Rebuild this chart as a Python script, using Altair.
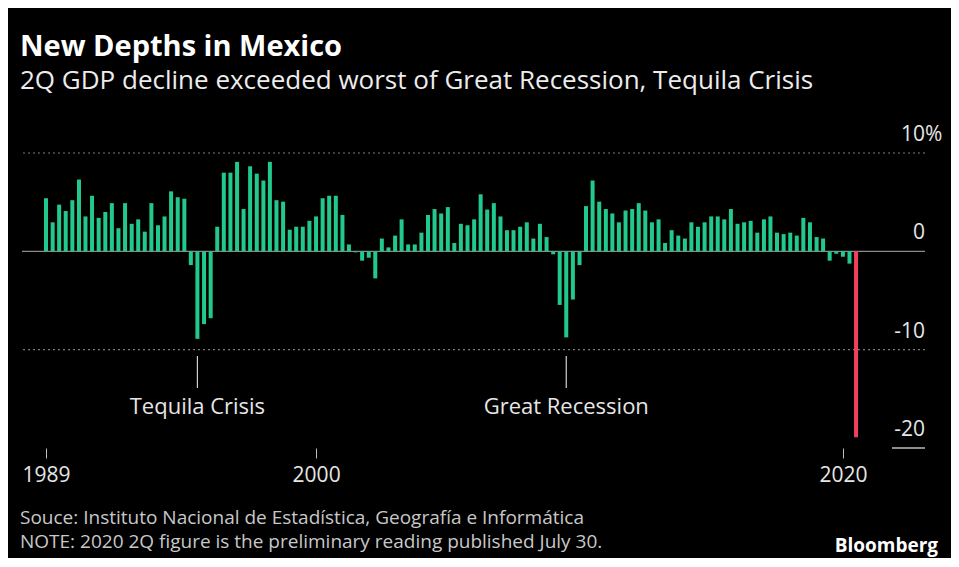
import altair as alt
import pandas as pd

# ---------------- data ----------------
quarters = [str(p) for p in pd.period_range("1989Q3", "2020Q2", freq="Q")]
growth = [
    5.4, 2.95, 4.75, 4.1, 5.2, 7.3, 3.55, 5.65, 3.4, 4.0, 4.9, 2.35, 4.9, 2.8, 3.25, 2.0,
    4.9, 2.65, 3.55, 6.1, 5.5, 5.35, -1.4, -8.9, -7.4, -6.8, 2.5, 8.0, 8.0, 9.1, 4.3,
    8.65, 7.9, 7.2, 9.1, 5.2, 5.05, 2.2, 2.5, 2.5, 3.1, 3.55, 5.4, 5.65, 5.65, 3.7, 0.7,
    -0.1, -0.95, -0.65, -2.75, 1.3, 0.4, 1.6, 3.25, 0.7, 0.7, 1.9, 3.7, 4.3, 3.85, 4.5, 0.85,
    2.8, 2.65, 3.25, 5.8, 4.25, 4.9, 3.55, 2.15, 2.15, 2.5, 2.95, 1.3, 2.8, 1.45, -0.3,
    -5.45, -8.75, -4.9, -1.4, 4.6, 7.2, 5.05, 4.3, 3.85, 2.95, 4.15, 4.3, 4.9, 4.15, 2.95, 3.25,
    0.85, 2.15, 1.6, 1.3, 2.95, 2.5, 2.95, 3.55, 3.55, 3.25, 4.3, 2.8, 2.95, 3.1, 1.9, 3.25,
    3.55, 1.9, 1.75, 1.9, 1.6, 3.4, 2.95, 1.45, 1.3, -0.95, -0.25, -0.55, -1.25, -18.9,
]
status = ["final"] * (len(quarters) - 1) + ["preliminary"]

tick_dates = ["1989-09-30", "2000-01-01", "2020-01-01"]
x_domain = ["1988-11-01", "2023-02-11"]
grid_dotted = [10, -10]
grid_solid = [0]
grid_short = [-20]
y_label_values = [10, 0, -10, -20]
y_label_texts = ["10", "0", "-10", "-20"]
ann_quarters = ["1995Q2", "2009Q2"]
ann_texts = ["Tequila Crisis", "Great Recession"]

title = "New Depths in Mexico"
subtitle = "2Q GDP decline exceeded worst of Great Recession, Tequila Crisis"
source = "Souce: Instituto Nacional de Estadística, Geografía e Informática"
note = "NOTE: 2020 2Q figure is the preliminary reading published July 30."
brand = "Bloomberg"

# ---------------- helpers ----------------
def q_end(q):
    return pd.Period(q, freq="Q").end_time.normalize().strftime("%Y-%m-%d")

def ms(d):
    return int(pd.Timestamp(d).value // 10**6)

FONT = "Open Sans"
GREEN = "#22c98c"
RED = "#f0405c"
GRID = "#7a7a7a"
TXT = "#e6e6e6"

df = pd.DataFrame({"date": [q_end(q) for q in quarters], "growth": growth, "status": status})

x_scale = alt.Scale(domain=[ms(d) for d in x_domain], nice=False, padding=0)
y_scale = alt.Scale(domain=[-20, 10], nice=False, zero=False, padding=0)

x_axis = alt.Axis(
    values=[ms(d) for d in tick_dates],
    labelExpr="utcFormat(datum.value, '%Y')",
    domain=False, grid=False, tickSize=10, tickColor="#bdbdbd",
    labelColor=TXT, labelFontSize=21, labelFont=FONT, labelPadding=6,
    labelFlush=False, labelOverlap=False, title=None,
)

grid1 = alt.Chart(pd.DataFrame({"v": grid_dotted})).mark_rule(
    color=GRID, strokeDash=[2, 3], strokeWidth=1.2
).encode(y=alt.Y("v:Q", scale=y_scale, axis=None))

grid0 = alt.Chart(pd.DataFrame({"v": grid_solid})).mark_rule(
    color="#8a8a8a", strokeWidth=1.2
).encode(y=alt.Y("v:Q", scale=y_scale, axis=None))

grid20 = alt.Chart(pd.DataFrame({"v": grid_short})).mark_rule(
    color="#bdbdbd", strokeWidth=1.5
).encode(y=alt.Y("v:Q", scale=y_scale, axis=None), x=alt.value(870), x2=alt.value(903))

bars = alt.Chart(df).mark_bar(size=4).encode(
    x=alt.X("date:T", scale=x_scale, axis=x_axis),
    y=alt.Y("growth:Q", scale=y_scale, axis=None),
    y2=alt.datum(0),
    color=alt.Color("status:N", scale=alt.Scale(domain=["final", "preliminary"], range=[GREEN, RED]), legend=None),
)

ylab = alt.Chart(pd.DataFrame({"v": y_label_values, "t": y_label_texts})).mark_text(
    align="right", baseline="alphabetic", dy=-12, font=FONT, fontSize=21, color=TXT
).encode(y=alt.Y("v:Q", scale=y_scale, axis=None), x=alt.value(903), text="t:N")

pct = alt.Chart(pd.DataFrame({"v": [10], "t": ["%"]})).mark_text(
    align="left", baseline="alphabetic", dy=-12, font=FONT, fontSize=21, color=TXT
).encode(y=alt.Y("v:Q", scale=y_scale, axis=None), x=alt.value(903), text="t:N")

ann_df = pd.DataFrame({"date": [q_end(q) for q in ann_quarters], "t": ann_texts})
ann_rule = alt.Chart(ann_df).mark_rule(color="#d0d0d0", strokeWidth=1.2).encode(
    x=alt.X("date:T", scale=x_scale), y=alt.value(203), y2=alt.value(235)
)
ann_text = alt.Chart(ann_df).mark_text(
    align="center", baseline="middle", font=FONT, fontSize=22, color=TXT
).encode(x=alt.X("date:T", scale=x_scale), y=alt.value(254), text="t:N")

def label(txt, x, y, size, weight="normal", color=TXT, align="left"):
    return alt.Chart(pd.DataFrame({"t": [txt]})).mark_text(
        align=align, baseline="alphabetic", font=FONT, fontSize=size, fontWeight=weight, color=color
    ).encode(x=alt.value(x), y=alt.value(y), text="t:N")

t1 = label(title, -2, -97, 29, "bold", "#ffffff")
t2 = label(subtitle, -2, -64, 26, "normal", "#ececec")
f1 = label(source, -2, 371, 19, "normal", "#c8c8c8")
f2 = label(note, -2, 395, 19, "normal", "#c8c8c8")
f3 = label(brand, 916, 399, 19, "bold", "#ffffff", align="right")

chart = alt.layer(
    grid1, grid0, grid20, bars, ylab, pct, ann_rule, ann_text, t1, t2, f1, f2, f3
).properties(
    width=903, height=295, background="black",
    padding={"left": 14, "top": 145, "right": 26, "bottom": 110},
    autosize=alt.AutoSizeParams(type="none"),
).configure_view(stroke=None)

chart.save("out.html", embed_options={"renderer": "svg", "actions": False})
